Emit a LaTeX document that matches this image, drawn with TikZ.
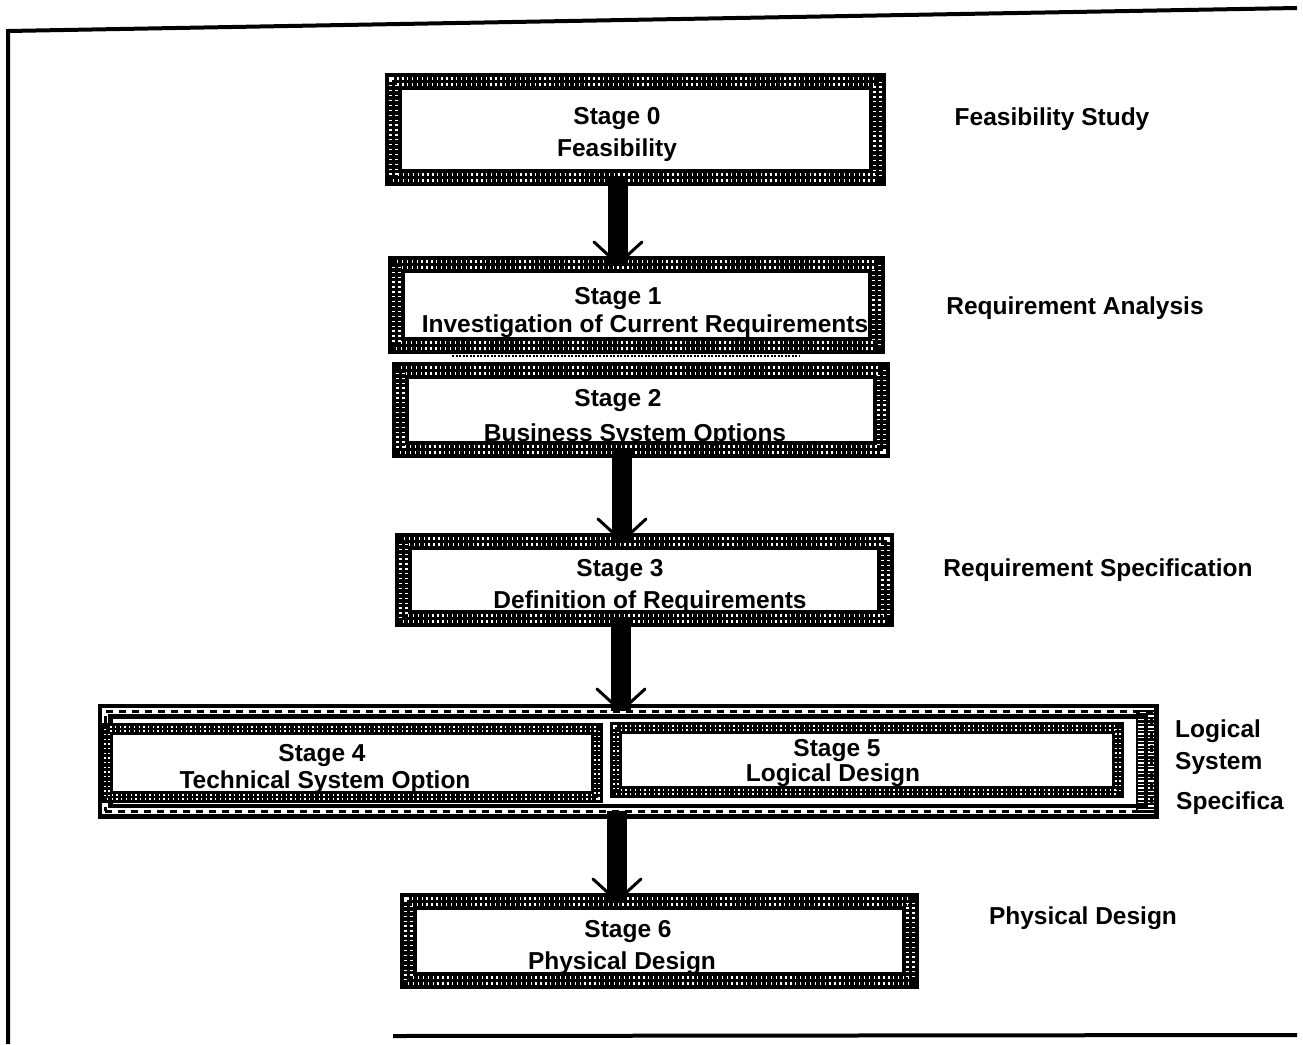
\documentclass[tikz,border=0pt]{standalone}
\usepackage{fontspec}
\setmainfont{Liberation Sans}
\usetikzlibrary{calc}
\begin{document}
\begin{tikzpicture}[x=1pt,y=-1pt,
  % thick textured border of a stage box
  stagebox/.style={rectangle, draw=black, fill=white, line width=17pt, line join=miter,
    inner sep=0pt, outer sep=0pt,
    postaction={draw=white, line width=9pt, dash pattern=on 1.3pt off 3.6pt},
    postaction={draw=black, line width=3pt}},
  smallbox/.style={rectangle, draw=black, fill=white, line width=12pt, line join=miter,
    inner sep=0pt, outer sep=0pt,
    postaction={draw=white, line width=6pt, dash pattern=on 1.3pt off 3.4pt},
    postaction={draw=black, line width=2.2pt}},
  % double-line border of the stage 4/5 group
  groupbox/.style={rectangle, draw=black, line width=15pt, line join=miter,
    inner sep=0pt, outer sep=0pt,
    postaction={draw=white, line width=6pt},
    postaction={draw=black, line width=3pt, dash pattern=on 7pt off 6pt}},
  hatch/.style={draw=black, line width=19pt, dash pattern=on 2.2pt off 1.4pt},
  bar/.style={draw=black, line width=20pt},
  vhead/.style={draw=black, line width=3pt, line cap=round},
  frame/.style={draw=black, line width=4pt},
  dotline/.style={draw=black, line width=2.5pt, dash pattern=on 2pt off 1.5pt},
  lbl/.style={font=\bfseries\fontsize{24.5}{28}\selectfont, inner sep=0pt, anchor=base},
  side/.style={lbl, anchor=base west}
]
\useasboundingbox (0,0) rectangle (1303,1044);

% outer frame
\draw[frame] (8,1044) -- (8,31) -- (1297,8);
\draw[frame] (393,1036) -- (1297,1035);

% box centres
\coordinate (c0) at (635,129);
\coordinate (c1) at (636,304.5);
\coordinate (c2) at (640.5,409.5);
\coordinate (c3) at (644,579.5);
\coordinate (cg) at (628,761);
\coordinate (c6) at (659,940.5);

% connector columns
\coordinate (a0) at (618,177);
\coordinate (a2) at (622,449);
\coordinate (a3) at (621,618);
\coordinate (a4) at (617,811);

% tips of the open heads, on the top edge of the lower box
\path (c1) ++(0,-40.5) coordinate (t1);
\path (c3) ++(0,-38.5) coordinate (t3);
\path (cg) ++(0,-50) coordinate (tg);
\path (c6) ++(0,-39.5) coordinate (t6);

\draw[vhead] ($(a0 |- t1)+(-24,-22)$) -- (a0 |- t1) -- ($(a0 |- t1)+(24,-22)$);
\draw[vhead] ($(a2 |- t3)+(-24,-22)$) -- (a2 |- t3) -- ($(a2 |- t3)+(24,-22)$);
\draw[vhead] ($(a3 |- tg)+(-24,-22)$) -- (a3 |- tg) -- ($(a3 |- tg)+(24,-22)$);
\draw[vhead] ($(a4 |- t6)+(-24,-22)$) -- (a4 |- t6) -- ($(a4 |- t6)+(24,-22)$);

\node[stagebox, minimum width=484pt, minimum height=96pt] (s0) at (c0) {};
\node[stagebox, minimum width=480pt, minimum height=81pt] (s1) at (c1) {};
\node[stagebox, minimum width=481pt, minimum height=79pt] (s2) at (c2) {};
\node[stagebox, minimum width=482pt, minimum height=77pt] (s3) at (c3) {};
\node[groupbox, minimum width=1046pt, minimum height=100pt] (g) at (cg) {};
\node[smallbox, minimum width=490pt, minimum height=68pt] (s4) at (352,763) {};
\node[smallbox, minimum width=502pt, minimum height=64pt] (s5) at (867,760) {};
\node[stagebox, minimum width=502pt, minimum height=79pt] (s6) at (c6) {};

% hatched right edge of the group
\draw[hatch] (1147,706) -- (1147,816);
\draw[draw=black, line width=2.5pt] (1137,712) -- (1137,810);

% dotted rule between stage 1 and stage 2
\draw[dotline] (452,356) -- (800,356);

% arrows
\draw[bar] (a0 |- s0.south) -- (a0 |- s1.north);
\draw[bar] (a2 |- s2.south) -- (a2 |- s3.north);
\draw[bar] (a3 |- s3.south) -- (a3 |- g.north);
\draw[bar] (a4 |- g.south) -- (a4 |- s6.north);

% box texts
\node[lbl] (l0a) at (617,124) {Stage 0};
\node[lbl] (l0b) at (617,156) {Feasibility};
\node[lbl] (l1a) at (618,304) {Stage 1};
\node[lbl] (l1b) at (645,332) {Investigation of Current Requirements};
\node[lbl] (l2a) at (618,406) {Stage 2};
\node[lbl] (l2b) at (635,441) {Business System Options};
\node[lbl] (l3a) at (620,576) {Stage 3};
\node[lbl] (l3b) at (650,608) {Definition of Requirements};
\node[lbl] (l4a) at (322,761) {Stage 4};
\node[lbl] (l4b) at (325,788) {Technical System Option};
\node[lbl] (l5a) at (837,756) {Stage 5};
\node[lbl] (l5b) at (833,781) {Logical Design};
\node[lbl] (l6a) at (628,937) {Stage 6};
\node[lbl] (l6b) at (622,969) {Physical Design};

% phase names on the right
\node[lbl] (p0) at (1052,125) {Feasibility Study};
\node[lbl] (p1) at (1075,314) {Requirement Analysis};
\node[lbl] (p3) at (1098,576) {Requirement Specification};
\node[side] (p4a) at (1175,737) {Logical};
\node[side] (p4b) at (1175,769) {System};
\node[side] (p4c) at (1176,809) {Specifica};
\node[lbl] (p6) at (1083,924) {Physical Design};
\end{tikzpicture}
\end{document}
